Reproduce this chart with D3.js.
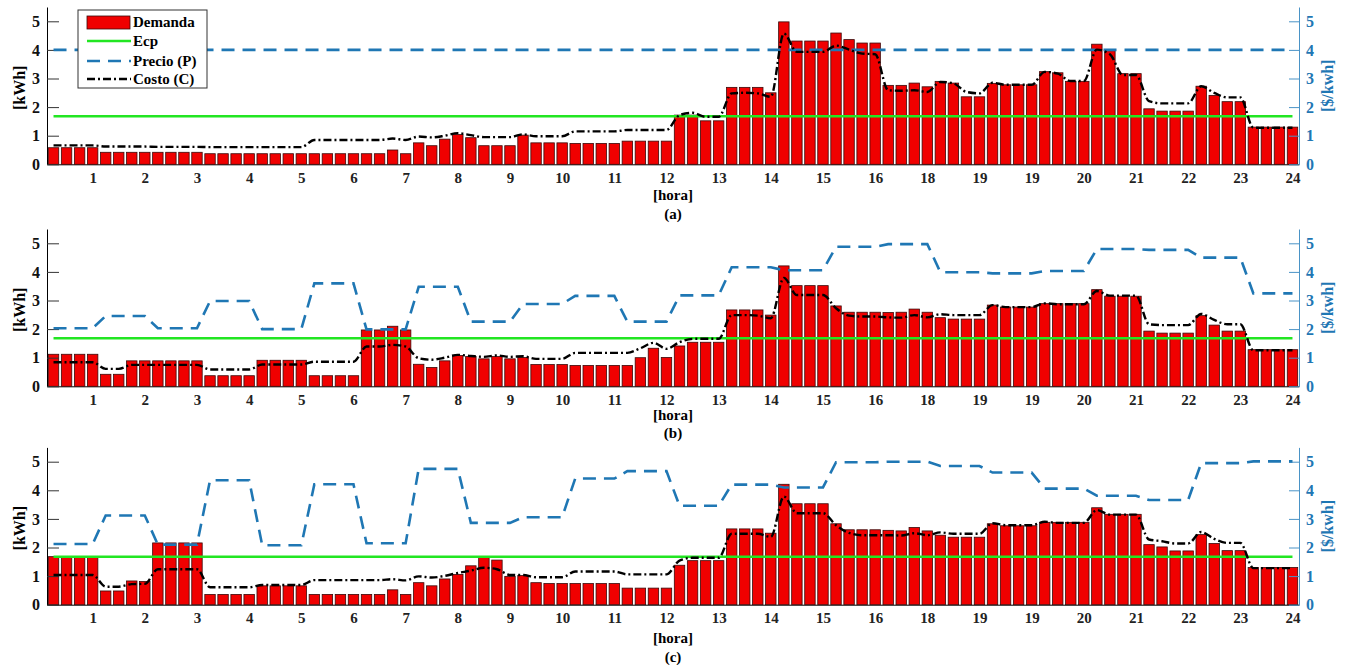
<!DOCTYPE html>
<html>
<head>
<meta charset="utf-8">
<script src="https://cdn.jsdelivr.net/npm/d3@7/dist/d3.min.js"></script>
<style>
  body { margin: 0; background: #fff; }
  svg text { font-family: "Liberation Serif", "Times New Roman", serif !important; font-weight: bold; }
</style>
</head>
<body>
<svg id="chart" width="1345" height="665"></svg>
<script>
// posiciones de los cuartos de hora (0.25 ... 24)
var cuartos = d3.range(1, 97).map(function(i){ return i / 4 })
var horaTicks = d3.range(1, 25)
var horaLabels = ["1","2","3","4","5","6","7","8","9","10","11","12","13","14","15","16","18","19","19","20","21","22","23","24"]
var yTicks = [0, 1, 2, 3, 4, 5]
var ecp = 1.68

// (a)
var demandaA = [0.58,0.58,0.58,0.58, 0.42,0.42,0.42,0.42, 0.42,0.42,0.42,0.42, 0.37,0.37,0.37,0.37,
  0.37,0.37,0.37,0.37, 0.37,0.37,0.37,0.37, 0.37,0.37,0.5,0.37, 0.75,0.65,0.88,1.04,
  0.93,0.65,0.65,0.65, 1.02,0.75,0.75,0.75, 0.73,0.73,0.73,0.73, 0.81,0.81,0.81,0.81,
  1.72,1.72,1.52,1.52, 2.69,2.69,2.69,2.5, 4.98,4.31,4.31,4.31, 4.59,4.36,4.24,4.24,
  2.76,2.76,2.84,2.71, 2.9,2.84,2.36,2.36, 2.83,2.78,2.78,2.78, 3.24,3.2,2.9,2.9,
  4.2,3.97,3.17,3.17, 1.94,1.86,1.86,1.86, 2.73,2.41,2.19,2.19, 1.3,1.3,1.3,1.3]
var costoA = [0.66,0.66,0.66,0.66, 0.62,0.62,0.62,0.62, 0.61,0.61,0.61,0.61, 0.6,0.6,0.6,0.6,
  0.6,0.6,0.6,0.6, 0.85,0.85,0.85,0.85, 0.85,0.85,0.9,0.85, 0.97,0.94,1.0,1.09,
  1.02,0.95,0.95,0.95, 1.05,0.98,0.98,0.98, 1.15,1.15,1.15,1.15, 1.2,1.2,1.2,1.2,
  1.72,1.8,1.66,1.66, 2.48,2.5,2.48,2.36, 4.57,3.93,3.93,3.93, 4.15,4.01,3.87,3.85,
  2.59,2.57,2.59,2.53, 2.88,2.83,2.53,2.48, 2.85,2.78,2.78,2.78, 3.23,3.17,2.91,2.91,
  4.01,3.85,3.12,3.12, 2.21,2.13,2.13,2.13, 2.73,2.5,2.34,2.34, 1.28,1.28,1.28,1.28]
var precioA = [4,4,4,4,4,4,4,4,4,4,4,4,4,4,4,4,4,4,4,4,4,4,4,4]

// (b)
var demandaB = [1.12,1.12,1.12,1.12, 0.42,0.42,0.89,0.89, 0.89,0.89,0.89,0.89, 0.37,0.37,0.37,0.37,
  0.91,0.91,0.91,0.91, 0.37,0.37,0.37,0.37, 1.97,1.97,2.1,1.97, 0.77,0.66,0.89,1.08,
  1.04,0.96,1.04,0.96, 1.01,0.76,0.76,0.76, 0.73,0.73,0.73,0.73, 0.73,1.0,1.33,1.01,
  1.41,1.54,1.54,1.54, 2.67,2.67,2.67,2.49, 4.21,3.52,3.52,3.52, 2.81,2.59,2.59,2.59,
  2.58,2.59,2.7,2.59, 2.4,2.35,2.35,2.35, 2.84,2.77,2.77,2.77, 2.89,2.89,2.89,2.89,
  3.38,3.15,3.15,3.15, 1.93,1.86,1.86,1.86, 2.47,2.14,1.93,1.93, 1.28,1.28,1.28,1.28]
var costoB = [0.84,0.84,0.84,0.84, 0.61,0.61,0.75,0.75, 0.75,0.75,0.75,0.75, 0.59,0.59,0.59,0.59,
  0.76,0.76,0.76,0.76, 0.86,0.86,0.86,0.86, 1.39,1.39,1.45,1.39, 0.98,0.93,1.0,1.1,
  1.06,1.03,1.08,1.03, 1.05,0.96,0.96,0.96, 1.17,1.17,1.17,1.17, 1.17,1.33,1.52,1.31,
  1.54,1.66,1.66,1.66, 2.49,2.49,2.47,2.38, 3.79,3.19,3.19,3.19, 2.73,2.47,2.44,2.44,
  2.41,2.4,2.49,2.41, 2.52,2.49,2.49,2.49, 2.84,2.77,2.77,2.77, 2.9,2.87,2.87,2.87,
  3.33,3.17,3.17,3.17, 2.17,2.14,2.14,2.14, 2.53,2.32,2.17,2.17, 1.26,1.26,1.26,1.26]
var precioB = [2.03,2.46,2.03,2.98,2.0,3.6,1.99,3.48,2.26,2.88,3.16,2.26,3.18,4.16,4.06,4.88,4.97,3.99,3.95,4.03,4.8,4.77,4.5,3.25]

// (c)
var demandaC = [1.68,1.68,1.68,1.68, 0.48,0.48,0.83,0.81, 2.16,2.16,2.16,2.16, 0.36,0.36,0.36,0.36,
  0.66,0.66,0.66,0.66, 0.36,0.36,0.36,0.36, 0.36,0.36,0.52,0.36, 0.77,0.66,0.9,1.06,
  1.36,1.65,1.56,0.99, 1.02,0.77,0.74,0.74, 0.74,0.74,0.74,0.74, 0.58,0.58,0.58,0.58,
  1.38,1.54,1.54,1.54, 2.65,2.65,2.65,2.5, 4.21,3.53,3.53,3.53, 2.83,2.62,2.62,2.62,
  2.6,2.58,2.7,2.58, 2.43,2.36,2.36,2.36, 2.83,2.76,2.76,2.76, 2.88,2.88,2.88,2.88,
  3.39,3.16,3.16,3.16, 2.1,2.02,1.88,1.88, 2.45,2.14,1.89,1.89, 1.3,1.3,1.3,1.3]
var costoC = [1.04,1.04,1.04,1.04, 0.63,0.63,0.72,0.73, 1.24,1.24,1.24,1.24, 0.61,0.61,0.61,0.61,
  0.69,0.69,0.69,0.69, 0.86,0.86,0.86,0.86, 0.86,0.86,0.89,0.85, 0.99,0.95,1.01,1.11,
  1.19,1.29,1.24,1.04, 1.04,0.96,0.96,0.96, 1.16,1.16,1.16,1.16, 1.06,1.06,1.06,1.06,
  1.54,1.64,1.64,1.64, 2.48,2.48,2.48,2.37, 3.78,3.2,3.2,3.2, 2.78,2.51,2.43,2.43,
  2.43,2.42,2.5,2.43, 2.53,2.48,2.48,2.48, 2.85,2.78,2.78,2.78, 2.9,2.86,2.86,2.86,
  3.31,3.15,3.15,3.15, 2.28,2.22,2.14,2.14, 2.54,2.3,2.16,2.16, 1.28,1.28,1.28,1.28]
var precioC = [2.12,3.12,2.1,4.35,2.08,4.21,2.15,4.75,2.86,3.06,4.41,4.67,3.46,4.2,4.1,4.98,5.0,4.85,4.62,4.06,3.81,3.66,4.95,5.01]

var paneles = [
  { demanda: demandaA, costo: costoA, precio: precioA, base: 164.3, hora: 195, letra: "(a)", letraY: 214, leyenda: true },
  { demanda: demandaB, costo: costoB, precio: precioB, base: 386.3, hora: 415, letra: "(b)", letraY: 433 },
  { demanda: demandaC, costo: costoC, precio: precioC, base: 604.7, hora: 638, letra: "(c)", letraY: 657 }
]

var fuente = '"Liberation Serif", "Times New Roman", serif'
var azul = "#1f77b4"
var verde = "#22e622"
var rojo = "#f00000"

var svg = d3.select("#chart")

var x = d3.scaleLinear().domain([0.125, 24.125]).range([47, 1299])
var bw = (x(0.25) - x(0)) * 0.8

paneles.forEach(function(p){
  var y = d3.scaleLinear().domain([0, 5.5]).range([p.base, p.base - 157.3])
  var g = svg.append('g')

  // eje x
  var ax = g.append('g')
    .attr('transform', 'translate(0,' + p.base + ')')
    .attr('font-family', fuente)
    .call(d3.axisBottom(x).tickValues(horaTicks).tickSize(0).tickPadding(8)
      .tickFormat(function(d, i){ return horaLabels[i] }))
  ax.selectAll('text').style('font-size', '15px').attr('fill', '#222')
  ax.select('.domain').attr('stroke', '#000')

  // barras
  g.selectAll('rect.bar')
    .data(p.demanda)
    .enter()
    .append('rect')
    .attr('class', 'bar')
    .attr('x', function(d, i){ return x(cuartos[i]) - bw / 2 })
    .attr('y', function(d){ return y(d) })
    .attr('width', bw)
    .attr('height', function(d){ return p.base - y(d) })
    .attr('fill', rojo)
    .attr('stroke', '#3a0a0a')
    .attr('stroke-width', 0.8)

  // eje izquierdo
  var ayl = g.append('g')
    .attr('transform', 'translate(47,0)')
    .attr('font-family', fuente)
    .call(d3.axisLeft(y).tickValues(yTicks).tickFormat(d3.format('d'))
      .tickSize(-12).tickSizeOuter(0).tickPadding(7))
  ayl.selectAll('text').style('font-size', '16px').attr('fill', '#111')
  ayl.selectAll('line').attr('stroke', '#333')

  // eje derecho (precio)
  var ayr = g.append('g')
    .attr('transform', 'translate(1299,0)')
    .attr('font-family', fuente)
    .call(d3.axisRight(y).tickValues(yTicks).tickFormat(d3.format('d'))
      .tickSize(-10).tickSizeOuter(0).tickPadding(7))
  ayr.selectAll('text').style('font-size', '16px').attr('fill', azul)
  ayr.selectAll('line').attr('stroke', '#4a93c6')
  ayr.select('.domain').attr('stroke', '#4a93c6')

  // Ecp
  g.append('line')
    .attr('x1', x(0.25)).attr('x2', x(24))
    .attr('y1', y(ecp)).attr('y2', y(ecp))
    .attr('stroke', verde).attr('stroke-width', 2.5)

  // precio: tarifa horaria en cada cuarto de hora
  var precio96 = cuartos.map(function(h){ return p.precio[Math.ceil(h) - 1] })
  g.append('path')
    .datum(precio96)
    .attr('d', d3.line().x(function(d, i){ return x(cuartos[i]) }).y(function(d){ return y(d) }))
    .attr('fill', 'none')
    .attr('stroke', azul)
    .attr('stroke-width', 2.6)
    .attr('stroke-dasharray', '13,8')

  // costo
  g.append('path')
    .datum(p.costo)
    .attr('d', d3.line().curve(d3.curveMonotoneX)
      .x(function(d, i){ return x(cuartos[i]) }).y(function(d){ return y(d) }))
    .attr('fill', 'none')
    .attr('stroke', '#000')
    .attr('stroke-width', 2.4)
    .attr('stroke-dasharray', '8,3,2,3')

  // etiquetas
  g.append('text')
    .attr('transform', 'translate(19,' + (y(2.5) - 5) + ') rotate(-90)')
    .attr('text-anchor', 'middle').attr('dy', '0.35em')
    .style('font-size', '16px')
    .text('[kWh]')
  g.append('text')
    .attr('transform', 'translate(1327,' + (y(2.5) - 7) + ') rotate(-90)')
    .attr('text-anchor', 'middle').attr('dy', '0.35em')
    .style('font-size', '16px').attr('fill', azul)
    .text('[$/kwh]')
  g.append('text')
    .attr('x', 673).attr('y', p.hora).attr('dy', '0.35em')
    .attr('text-anchor', 'middle').style('font-size', '15px')
    .text('[hora]')
  g.append('text')
    .attr('x', 673).attr('y', p.letraY).attr('dy', '0.35em')
    .attr('text-anchor', 'middle').style('font-size', '15px')
    .text(p.letra)

  if(p.leyenda){
    var lg = g.append('g')
    lg.append('rect')
      .attr('x', 78).attr('y', 10).attr('width', 129).attr('height', 78)
      .attr('fill', '#fff').attr('stroke', '#333').attr('stroke-width', 1)
    lg.append('rect')
      .attr('x', 87).attr('y', 16).attr('width', 43).attr('height', 13)
      .attr('fill', rojo).attr('stroke', '#3a0a0a').attr('stroke-width', 0.8)
    var filas = [
      { t: 'Demanda', y: 22 },
      { t: 'Ecp', y: 41, c: verde, dash: null },
      { t: 'Precio (P)', y: 61, c: azul, dash: '13,8' },
      { t: 'Costo (C)', y: 79, c: '#000', dash: '8,3,2,3' }
    ]
    filas.forEach(function(f){
      if(f.c){
        lg.append('line')
          .attr('x1', 87).attr('x2', 131).attr('y1', f.y).attr('y2', f.y)
          .attr('stroke', f.c).attr('stroke-width', 2.5)
          .attr('stroke-dasharray', f.dash)
      }
      lg.append('text')
        .attr('x', 133).attr('y', f.y).attr('dy', '0.35em')
        .style('font-size', '15px')
        .text(f.t)
    })
  }
})
</script>
</body>
</html>
